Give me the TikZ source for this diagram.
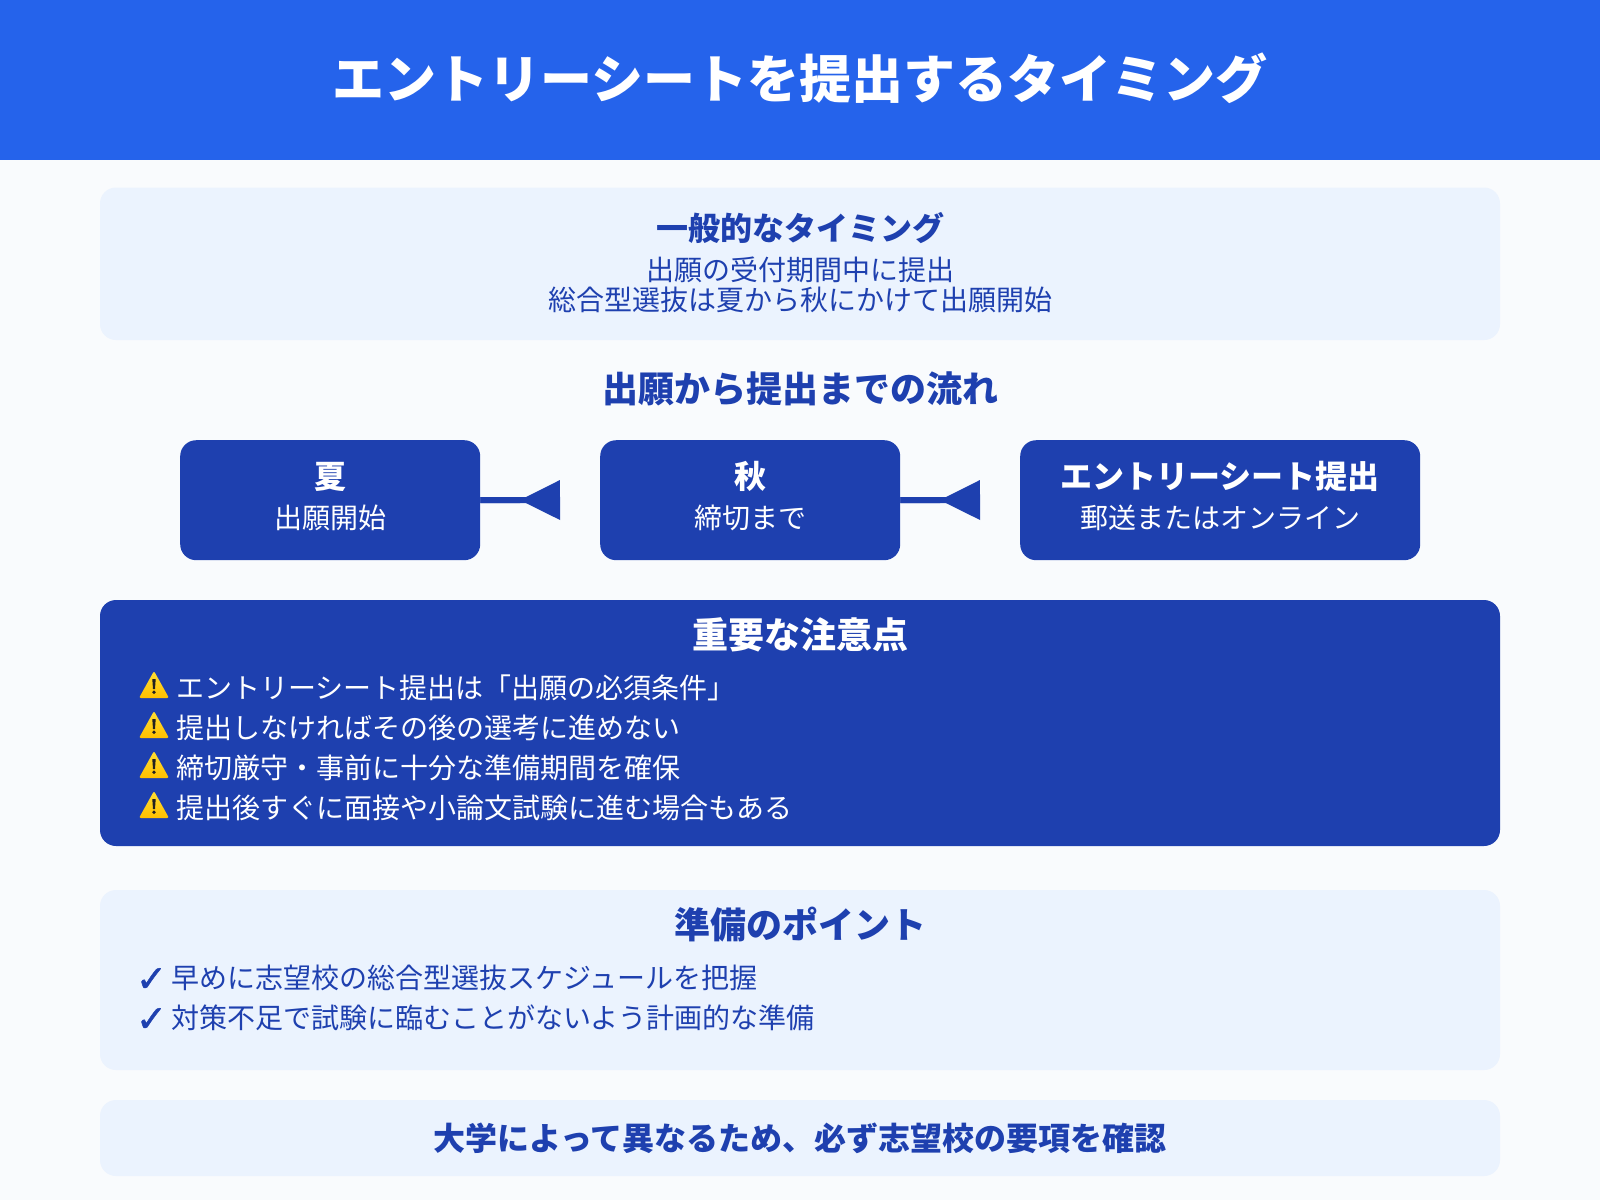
\documentclass[tikz,border=0pt]{standalone}
\usepackage{fontspec}
\usetikzlibrary{arrows.meta}
\setmainfont{Noto Sans CJK JP}
\newfontfamily\chkfont[FakeBold=1.2]{DejaVu Sans}
\definecolor{hdr}{HTML}{2563EB}
\definecolor{bgc}{HTML}{F9FBFD}
\definecolor{pale}{HTML}{EBF3FE}
\definecolor{navy}{HTML}{1E40AF}
\definecolor{warnT}{HTML}{FFDD33}
\definecolor{warnB}{HTML}{FFC000}
\definecolor{warnD}{HTML}{212121}
\newcommand{\fsz}[1]{\fontsize{#1pt}{#1pt}\selectfont}
\tikzset{
  x=1pt,y=-1pt,
  txt/.style={inner sep=0pt,outer sep=0pt,anchor=base},
  ltxt/.style={inner sep=0pt,outer sep=0pt,anchor=base west},
  panel/.style={fill=pale,rounded corners=16pt,draw=none},
  navybox/.style={fill=navy,rounded corners=16pt,draw=none},
  flowline/.style={draw=navy,line width=6pt},
  flowarrow/.style={draw=navy,line width=6pt,-{Triangle[reversed,length=40pt,width=40pt,inset=0pt,line width=0pt]},shorten >=0pt},
  warnbg/.style={top color=warnT,bottom color=warnB,rounded corners=2pt,draw=none},
  warnmark/.style={fill=warnD,draw=none},
}
% #1,#2 = top-left of the icon box (28 x 25)
\newcommand{\warnicon}[3]{%
  \path[warnbg] (#1-1,#2+25) -- (#1+14,#2-2) -- (#1+29,#2+25) -- cycle;
  \fill[warnmark] (#1+12.3,#2+6) -- (#1+15.7,#2+6) -- (#1+15,#2+16) -- (#1+13,#2+16) -- cycle;
  \fill[warnmark] (#1+14,#2+19.2) circle (1.9pt);
  \coordinate (#3) at (#1,#2);
}
\begin{document}
\begin{tikzpicture}
\useasboundingbox (0,0) rectangle (1600,1200);
\fill[bgc] (0,0) rectangle (1600,1200);
\fill[hdr] (0,0) rectangle (1600,160);
\node[txt,text=white,font=\fsz{52}\bfseries] (title) at (800,98) {エントリーシートを提出するタイミング};

\fill[panel] (100,187.5) rectangle (1500,340);
\node[txt,text=navy,font=\fsz{32}\bfseries] (t1) at (800,240) {一般的なタイミング};
\node[txt,text=navy,font=\fsz{28}] (t1a) at (800,280) {出願の受付期間中に提出};
\node[txt,text=navy,font=\fsz{28}] (t1b) at (800,310) {総合型選抜は夏から秋にかけて出願開始};

\node[txt,text=navy,font=\fsz{36}\bfseries] (t2) at (800,402) {出願から提出までの流れ};

\node[navybox,minimum width=300pt,minimum height=120pt,inner sep=0pt,anchor=north west] (b1) at (180,440) {};
\node[navybox,minimum width=300pt,minimum height=120pt,inner sep=0pt,anchor=north west] (b2) at (600,440) {};
\node[navybox,minimum width=400pt,minimum height=120pt,inner sep=0pt,anchor=north west] (b3) at (1020,440) {};
\node[txt,text=white,font=\fsz{32}\bfseries] (b1t) at (330,488) {夏};
\node[txt,text=white,font=\fsz{28}] (b1s) at (330,528) {出願開始};
\node[txt,text=white,font=\fsz{32}\bfseries] (b2t) at (750,488) {秋};
\node[txt,text=white,font=\fsz{28}] (b2s) at (750,528) {締切まで};
\node[txt,text=white,font=\fsz{32}\bfseries] (b3t) at (1220,488) {エントリーシート提出};
\node[txt,text=white,font=\fsz{28}] (b3s) at (1220,528) {郵送またはオンライン};
\coordinate (e1) at (560,500);
\coordinate (e2) at (980,500);
\coordinate (i1) at (535,500);
\coordinate (i2) at (955,500);
\draw[flowline] (b1.east) -- (i1);
\draw[flowline] (b2.east) -- (i2);
\draw[flowarrow] (b1.east) -- (e1);
\draw[flowarrow] (b2.east) -- (e2);

\fill[navybox] (100,600) rectangle (1500,846);
\node[txt,text=white,font=\fsz{36}\bfseries] (t3) at (800,648) {重要な注意点};
\warnicon{140}{673}{w1}
\warnicon{140}{713}{w2}
\warnicon{140}{753}{w3}
\warnicon{140}{793}{w4}
\node[ltxt,text=white,font=\fsz{28}] (n1) at (176,698.5) {エントリーシート提出は「出願の必須条件」};
\node[ltxt,text=white,font=\fsz{28}] (n2) at (176,738.5) {提出しなければその後の選考に進めない};
\node[ltxt,text=white,font=\fsz{28}] (n3) at (176,778) {締切厳守・事前に十分な準備期間を確保};
\node[ltxt,text=white,font=\fsz{28}] (n4) at (176,818) {提出後すぐに面接や小論文試験に進む場合もある};

\fill[panel] (100,890) rectangle (1500,1070);
\node[txt,text=navy,font=\fsz{36}\bfseries] (t4) at (800,938) {準備のポイント};
\node[ltxt,text=navy,font=\chkfont\fsz{37}] (c1) at (136,991.5) {✓};
\node[ltxt,text=navy,font=\chkfont\fsz{37}] (c2) at (136,1031.5) {✓};
\node[ltxt,text=navy,font=\fsz{28}] (p1) at (171,988) {早めに志望校の総合型選抜スケジュールを把握};
\node[ltxt,text=navy,font=\fsz{28}] (p2) at (171,1028) {対策不足で試験に臨むことがないよう計画的な準備};

\fill[panel] (100,1100) rectangle (1500,1176);
\node[txt,text=navy,font=\fsz{32}\bfseries] (t5) at (800,1150) {大学によって異なるため、必ず志望校の要項を確認};
\end{tikzpicture}
\end{document}
